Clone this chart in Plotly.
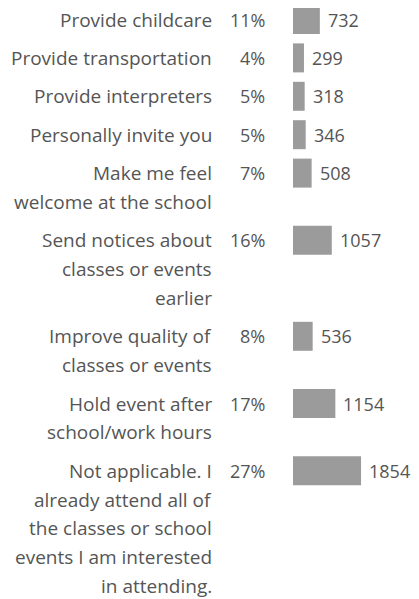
import plotly.graph_objects as go

# ---- data ----
categories = [
    "Provide childcare",
    "Provide transportation",
    "Provide interpreters",
    "Personally invite you",
    "Make me feel<br>welcome at the school",
    "Send notices about<br>classes or events<br>earlier",
    "Improve quality of<br>classes or events",
    "Hold event after<br>school/work hours",
    "Not applicable. I<br>already attend all of<br>the classes or school<br>events I am interested<br>in attending.",
]
percents = ["11%", "4%", "5%", "5%", "7%", "16%", "8%", "17%", "27%"]
values = [732, 299, 318, 346, 508, 1057, 536, 1154, 1854]

# ---- layout constants (pixels, in figure coordinates) ----
OFF_X, OFF_Y = 8 + 4, 8  # page body margin (+ small left shift so everything fits)
W, H = 411, 591
LINE_H = 28.8
GAP = 9.6
TOP = 19.5 - OFF_Y
BAR_X0 = 297 - OFF_X
PX_PER_UNIT = 0.0367
LABEL_RIGHT = 215.5 - OFF_X
PCT_RIGHT = 268.5 - OFF_X
FONT = "'Open Sans', sans-serif"
FS = 19
FS_NUM = 18
TXT = "#555555"
BAR = "#9b9b9b"

lines = [c.split("<br>") for c in categories]
centers = []
y = TOP
for ln in lines:
    centers.append(y)
    y += len(ln) * LINE_H + GAP

fig = go.Figure(go.Bar(
    x=values, y=centers, orientation="h", width=29,
    marker=dict(color=BAR, line=dict(width=0)),
    hoverinfo="skip",
))

ann = []
for c, ln, p, v in zip(centers, lines, percents, values):
    for i, t in enumerate(ln):
        ann.append(dict(text=t, xref="paper", x=LABEL_RIGHT / W, xanchor="right",
                        yref="y", y=c + i * LINE_H, yanchor="middle",
                        showarrow=False, borderpad=0, borderwidth=0,
                        font=dict(family=FONT, size=FS, color=TXT)))
    ann.append(dict(text=p, xref="paper", x=PCT_RIGHT / W, xanchor="right",
                    yref="y", y=c, yanchor="middle", showarrow=False,
                    borderpad=0, borderwidth=0,
                    font=dict(family=FONT, size=FS_NUM, color=TXT)))
    ann.append(dict(text=str(v), xref="x", x=v, xanchor="left", xshift=8,
                    yref="y", y=c, yanchor="middle", showarrow=False,
                    borderpad=0, borderwidth=0,
                    font=dict(family=FONT, size=FS_NUM, color=TXT)))

fig.update_layout(
    width=W, height=H,
    margin=dict(l=0, r=0, t=0, b=0),
    paper_bgcolor="white", plot_bgcolor="white",
    showlegend=False,
    xaxis=dict(domain=[BAR_X0 / W, 1], range=[0, (W - BAR_X0) / PX_PER_UNIT],
               visible=False, fixedrange=True),
    yaxis=dict(range=[H, 0], visible=False, fixedrange=True),
    annotations=ann,
)

fig.write_html("out.html", config={"displayModeBar": False})
